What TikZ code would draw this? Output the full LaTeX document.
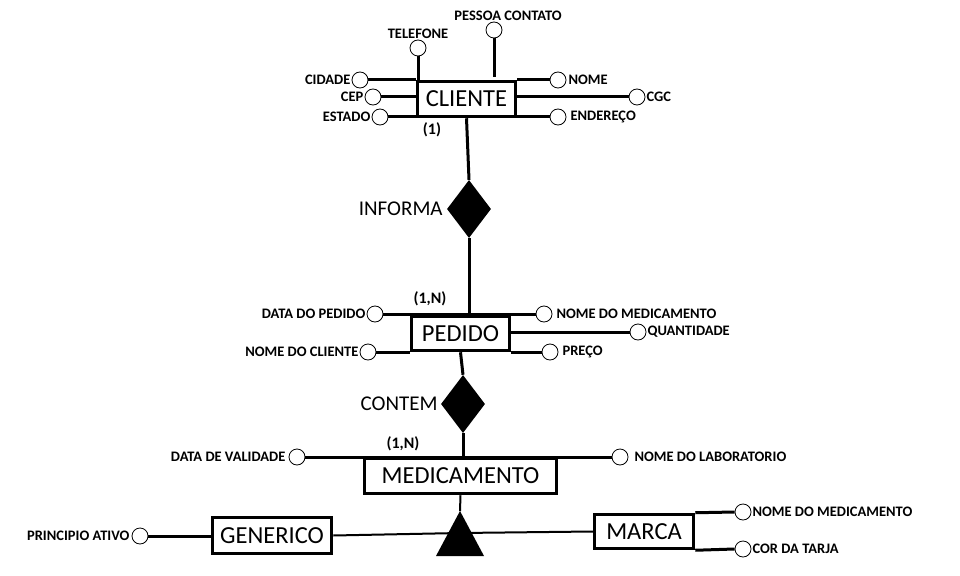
\documentclass[tikz,border=0pt]{standalone}
\usepackage{fontspec}
\setmainfont{Carlito}
\usetikzlibrary{shapes.geometric}
\begin{document}
\begin{tikzpicture}[x=1pt,y=-1pt,
  entity/.style={draw, line width=3.5pt, inner sep=0pt, font=\fontsize{24.5}{24.5}\selectfont},
  rel/.style={diamond, fill=black, inner sep=0pt, minimum width=44pt, minimum height=58pt},
  attr/.style={circle, draw, line width=0.8pt, minimum size=16pt, inner sep=0pt},
  lbl/.style={font=\bfseries\fontsize{14.5}{15}\selectfont, inner sep=1pt},
  rlbl/.style={font=\fontsize{21}{21}\selectfont, inner sep=1pt},
  conn/.style={line width=3pt},
  thin conn/.style={line width=2pt},
  card/.style={font=\bfseries\fontsize{16}{16}\selectfont, inner sep=0pt}
]
\useasboundingbox (0,0) rectangle (960,575);

% entities
\node[entity, minimum width=98pt, minimum height=35pt] (cliente) at (466.5,99) {CLIENTE};
\node[entity, minimum width=98pt, minimum height=34pt] (pedido) at (460.5,333.5) {PEDIDO};
\node[entity, minimum width=192pt, minimum height=35pt] (medic) at (460.5,476) {MEDICAMENTO};
\node[entity, minimum width=119pt, minimum height=36pt] (generico) at (272,535.5) {GENERICO};
\node[entity, minimum width=99pt, minimum height=34pt] (marca) at (644,531.5) {MARCA};

% relationships
\node[rel, label={[rlbl, label distance=3pt]left:INFORMA}] (informa) at (469,209) {};
\node[rel, label={[rlbl, label distance=2pt]left:CONTEM}] (contem) at (463,404) {};

% cardinalities
\node[card] (c1) at (432,130) {(1)};
\node[card] (c2) at (430,299) {(1,N)};
\node[card] (c3) at (403,444) {(1,N)};

% CLIENTE attributes
\node[attr, label={[lbl, label distance=0pt]above:TELEFONE}] (tel) at (418,48) {};
\node[attr, label={[lbl, label distance=0pt, xshift=14pt]above:PESSOA CONTATO}] (pessoa) at (494,30) {};
\node[attr, label={[lbl, label distance=0pt]left:CIDADE}] (cidade) at (360,80) {};
\node[attr, label={[lbl, label distance=0pt]left:CEP}] (cep) at (373,97) {};
\node[attr, label={[lbl, label distance=0pt]left:ESTADO}] (estado) at (380,117) {};
\node[attr, label={[lbl, label distance=1pt]right:NOME}] (nome) at (558,80) {};
\node[attr, label={[lbl, label distance=0pt]right:CGC}] (cgc) at (637,97) {};
\node[attr, label={[lbl, label distance=3pt]right:ENDEREÇO}] (ender) at (558,117) {};

% PEDIDO attributes
\node[attr, label={[lbl, label distance=0pt]left:DATA DO PEDIDO}] (datap) at (375,314) {};
\node[attr, label={[lbl, label distance=3pt]right:NOME DO MEDICAMENTO}] (nomemed) at (544,314) {};
\node[attr, label={[lbl, label distance=0pt]right:QUANTIDADE}] (quant) at (638,332) {};
\node[attr, label={[lbl, label distance=0pt]left:NOME DO CLIENTE}] (nomecli) at (368,352) {};
\node[attr, label={[lbl, label distance=3pt]right:PREÇO}] (preco) at (550,352) {};

% MEDICAMENTO attributes
\node[attr, label={[lbl, label distance=2pt]left:DATA DE VALIDADE}] (datav) at (297,457) {};
\node[attr, label={[lbl, label distance=5pt]right:NOME DO LABORATORIO}] (nomelab) at (620,457) {};

% GENERICO / MARCA attributes
\node[attr, label={[lbl, label distance=1pt]left:PRINCIPIO ATIVO}] (princ) at (140,536) {};
\node[attr, label={[lbl, label distance=0pt]right:NOME DO MEDICAMENTO}] (nomemed2) at (743,512) {};
\node[attr, label={[lbl, label distance=0pt]right:COR DA TARJA}] (cor) at (743,549) {};

% specialization triangle
\coordinate (tA) at (460,511);
\coordinate (tL) at (436,556);
\coordinate (tR) at (484,556);
\coordinate (tmid) at (460,533);
\draw[thin conn] (generico.east) -- (tmid);
\draw[thin conn] (marca.west) -- (tmid);
\fill (tA) -- (tL) -- (tR) -- cycle;
\draw[thin conn] (medic.south) -- (tA);

% relationship connectors
\draw[conn] (cliente.south) -- (informa.north);
\draw[conn] (informa.south) -- (informa.south |- pedido.north);
\draw[conn] (pedido.south) -- (contem.north);
\draw[conn] (contem.south) -- (contem.south |- medic.north);

% attribute connectors
\draw[conn] (tel.south) -- (tel.south |- cliente.north);
\draw[conn] (pessoa.south) -- ([yshift=3pt]pessoa.south |- cliente.north);
\draw[conn] (cidade.east) -- (cidade.east -| cliente.west);
\draw[conn] (cep.east) -- (cep.east -| cliente.west);
\draw[conn] (estado.east) -- (estado.east -| cliente.west);
\draw[conn] (nome.west -| cliente.east) -- (nome.west);
\draw[conn] (cgc.west -| cliente.east) -- (cgc.west);
\draw[conn] (ender.west -| cliente.east) -- (ender.west);

\draw[conn] (datap.east) -- (nomemed.west);
\draw[conn] (quant.west -| pedido.east) -- (quant.west);
\draw[conn] (nomecli.east) -- (nomecli.east -| pedido.west);
\draw[conn] (preco.west -| pedido.east) -- (preco.west);

\draw[conn] (datav.east) -- (nomelab.west);
\draw[conn] (princ.east) -- (princ.east -| generico.west);
\draw[conn] (marca.north east) -- (nomemed2.west);
\draw[conn] (marca.south east) -- (cor.west);
\end{tikzpicture}
\end{document}
